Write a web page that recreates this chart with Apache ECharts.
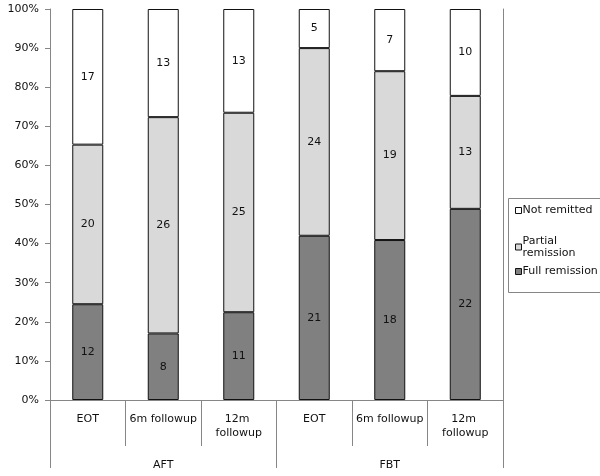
<!DOCTYPE html>
<html>
<head>
<meta charset="utf-8">
<script src="https://cdn.jsdelivr.net/npm/echarts@6/dist/echarts.min.js"></script>
<style>html,body{margin:0;padding:0;background:#fff}#c{width:600px;height:476px}</style>
</head>
<body>
<div id="c"></div>
<script>
var categories = ['EOT', '6m followup', '12m followup', 'EOT', '6m followup', '12m followup'];
var groups = ['AFT', 'FBT'];
var fullRemission = [12, 8, 11, 21, 18, 22];
var partialRemission = [20, 26, 25, 24, 19, 13];
var notRemitted = [17, 13, 13, 5, 7, 10];
var yTicks = [0, 10, 20, 30, 40, 50, 60, 70, 80, 90, 100];

var totals = categories.map(function (_, i) {
  return fullRemission[i] + partialRemission[i] + notRemitted[i];
});
function pct(arr) { return arr.map(function (v, i) { return v / totals[i] * 100; }); }

var FONT = 'DejaVu Sans';
var axisGray = '#868686';

function mkSeries(name, counts, color) {
  return {
    name: name, type: 'bar', stack: 'all', xAxisIndex: 0, yAxisIndex: 0,
    data: pct(counts), barWidth: 31,
    itemStyle: { color: color, borderColor: '#111', borderWidth: 1 },
    label: {
      show: true, position: 'inside', color: '#111', fontFamily: FONT, fontSize: 11,
      formatter: function (p) { return String(counts[p.dataIndex]); }
    },
    emphasis: { disabled: true }, animation: false
  };
}

var legendBase = {
  orient: 'vertical', left: 510, itemWidth: 6, itemHeight: 6, icon: 'rect', selectedMode: false,
  itemStyle: { borderColor: '#111', borderWidth: 1 }
};
function mkLegend(name, top, extra) {
  var o = Object.assign({}, legendBase, { top: top, data: [name],
    textStyle: { fontFamily: FONT, fontSize: 11, color: '#111', padding: [0, 0, 0, -4] } });
  return Object.assign(o, extra || {});
}

var chart = echarts.init(document.getElementById('c'), null, { renderer: 'canvas' });
chart.setOption({
  animation: false,
  backgroundColor: '#fff',
  grid: { left: 50, right: 97, top: 9, bottom: 76, containLabel: false },
  xAxis: [
    {
      type: 'category', data: categories, position: 'bottom',
      axisLine: { show: true, lineStyle: { color: axisGray, width: 1 } },
      axisTick: { show: true, interval: 0, length: 46, lineStyle: { color: axisGray } },
      axisLabel: {
        interval: 0, margin: 12, color: '#111', fontFamily: FONT, fontSize: 11,
        width: 72, overflow: 'break', lineHeight: 14
      },
      splitLine: { show: false }
    },
    {
      type: 'category', data: groups, position: 'bottom', gridIndex: 0,
      axisLine: { show: false },
      axisTick: { show: true, interval: 0, length: 68, lineStyle: { color: axisGray } },
      axisLabel: { interval: 0, margin: 60, color: '#111', fontFamily: FONT, fontSize: 11 },
      splitLine: { show: false }
    }
  ],
  yAxis: [
    {
      type: 'value', min: yTicks[0], max: yTicks[yTicks.length - 1], interval: 10,
      axisLine: { show: true, lineStyle: { color: axisGray } },
      axisTick: { show: true, length: 5, lineStyle: { color: axisGray } },
      axisLabel: { margin: 11, color: '#111', fontFamily: FONT, fontSize: 11, formatter: '{value}%' },
      splitLine: { show: false }
    },
    {
      type: 'value', position: 'right', min: 0, max: 100,
      axisLine: { show: true, lineStyle: { color: axisGray } },
      axisTick: { show: false }, axisLabel: { show: false }, splitLine: { show: false }
    }
  ],
  legend: [
    mkLegend('Not remitted', 200),
    mkLegend('Partial remission', 224, {
      formatter: function () { return 'Partial\nremission'; },
      textStyle: { fontFamily: FONT, fontSize: 11, color: '#111', lineHeight: 12, padding: [12, 0, 0, -4] }
    }),
    mkLegend('Full remission', 261)
  ],
  graphic: [
    {
      type: 'rect', shape: { x: 508.5, y: 198.5, width: 120, height: 94 },
      style: { fill: 'none', stroke: axisGray, lineWidth: 1 }, silent: true, z: -1
    }
  ],
  series: [
    mkSeries('Full remission', fullRemission, '#808080'),
    mkSeries('Partial remission', partialRemission, '#d9d9d9'),
    mkSeries('Not remitted', notRemitted, '#ffffff')
  ]
});
</script>
</body>
</html>
